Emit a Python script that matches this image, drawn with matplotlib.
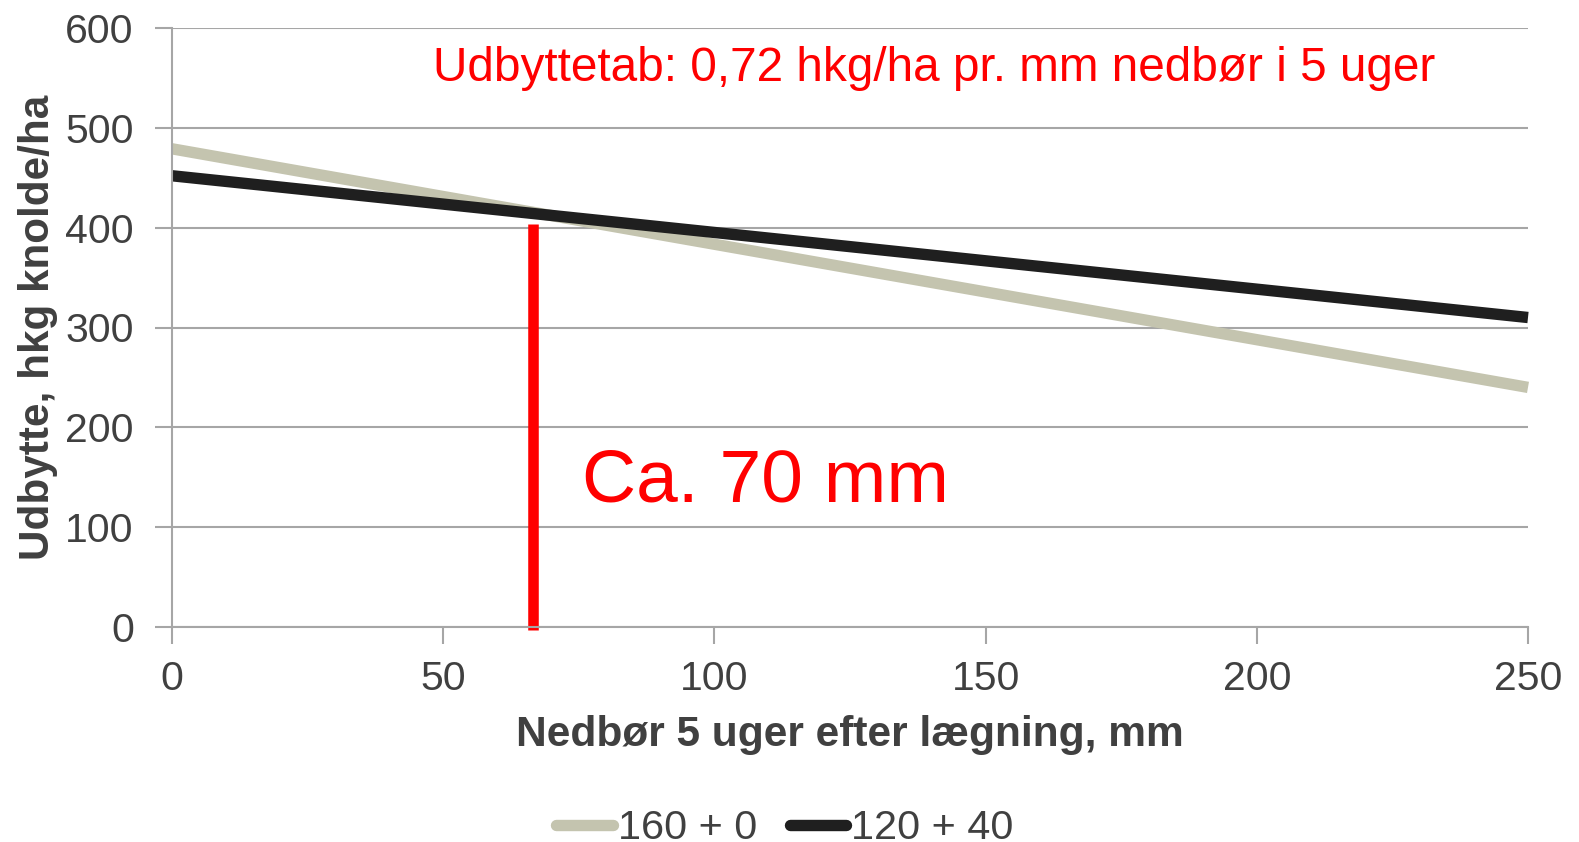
import matplotlib
matplotlib.use("Agg")
import matplotlib.pyplot as plt

plt.rcParams['font.family'] = ['Liberation Sans', 'DejaVu Sans']

# Data
x_mm = [0, 250]
yield_160_0 = [479, 240]
yield_120_40 = [452, 310]
series_labels = ["160 + 0", "120 + 40"]
marker_x = 66.5
marker_top = 404
x_ticks = [0, 50, 100, 150, 200, 250]
y_ticks = [0, 100, 200, 300, 400, 500, 600]

W, H = 1579, 842
fig = plt.figure(figsize=(W / 100, H / 100), dpi=100)
ax = fig.add_axes([172 / W, 1 - 627 / H, (1528 - 172) / W, (627 - 28) / H])

grid_c = '#A6A6A6'
text_c = '#404040'

ax.set_xlim(0, 250)
ax.set_ylim(0, 600)
ax.set_xticks(x_ticks)
ax.set_yticks(y_ticks)
ax.yaxis.grid(True, color=grid_c, linewidth=1.5)
ax.set_axisbelow(True)
for s in ['top', 'right']:
    ax.spines[s].set_visible(False)
for s in ['left', 'bottom']:
    ax.spines[s].set_color(grid_c)
    ax.spines[s].set_linewidth(1.5)
ax.tick_params(axis='both', colors=grid_c, length=12, width=1.5, labelcolor=text_c,
               labelsize=29.5)
ax.tick_params(axis='y', pad=15.5)
ax.tick_params(axis='x', pad=12)

l1, = ax.plot(x_mm, yield_160_0, color='#C4C4AF', linewidth=8.2,
              solid_capstyle='butt', label=series_labels[0], clip_on=False)
l2, = ax.plot(x_mm, yield_120_40, color='#1F1F1F', linewidth=8.2,
              solid_capstyle='butt', label=series_labels[1], clip_on=False)

ax.plot([marker_x, marker_x], [-3, marker_top], color='#FF0000', linewidth=7.6,
        solid_capstyle='butt', clip_on=False)

ax.text(48.1, 559, "Udbyttetab: 0,72 hkg/ha pr. mm nedbør i 5 uger",
        color='#FF0000', fontsize=34.4, ha='left', va='center')
ax.text(75.5, 145, "Ca. 70 mm", color='#FF0000', fontsize=54, ha='left', va='center')

ax.set_xlabel("Nedbør 5 uger efter lægning, mm", fontsize=30.6, fontweight='bold',
              color=text_c, labelpad=12)
fig.text(38 / W, 1 - 327 / H, "Udbytte, hkg knolde/ha", rotation=90, fontsize=30.4,
         fontweight='bold', color=text_c, ha='center', va='center')

leg = fig.legend(handles=[l1, l2], loc='center', bbox_to_anchor=(785 / W, 1 - 828 / H),
                 ncol=2, frameon=False, fontsize=29.8, handlelength=1.36,
                 handletextpad=0.12, columnspacing=0.8, labelcolor=text_c)
for ln in leg.get_lines():
    ln.set_solid_capstyle('round')

fig.savefig("out.png", dpi=100)
